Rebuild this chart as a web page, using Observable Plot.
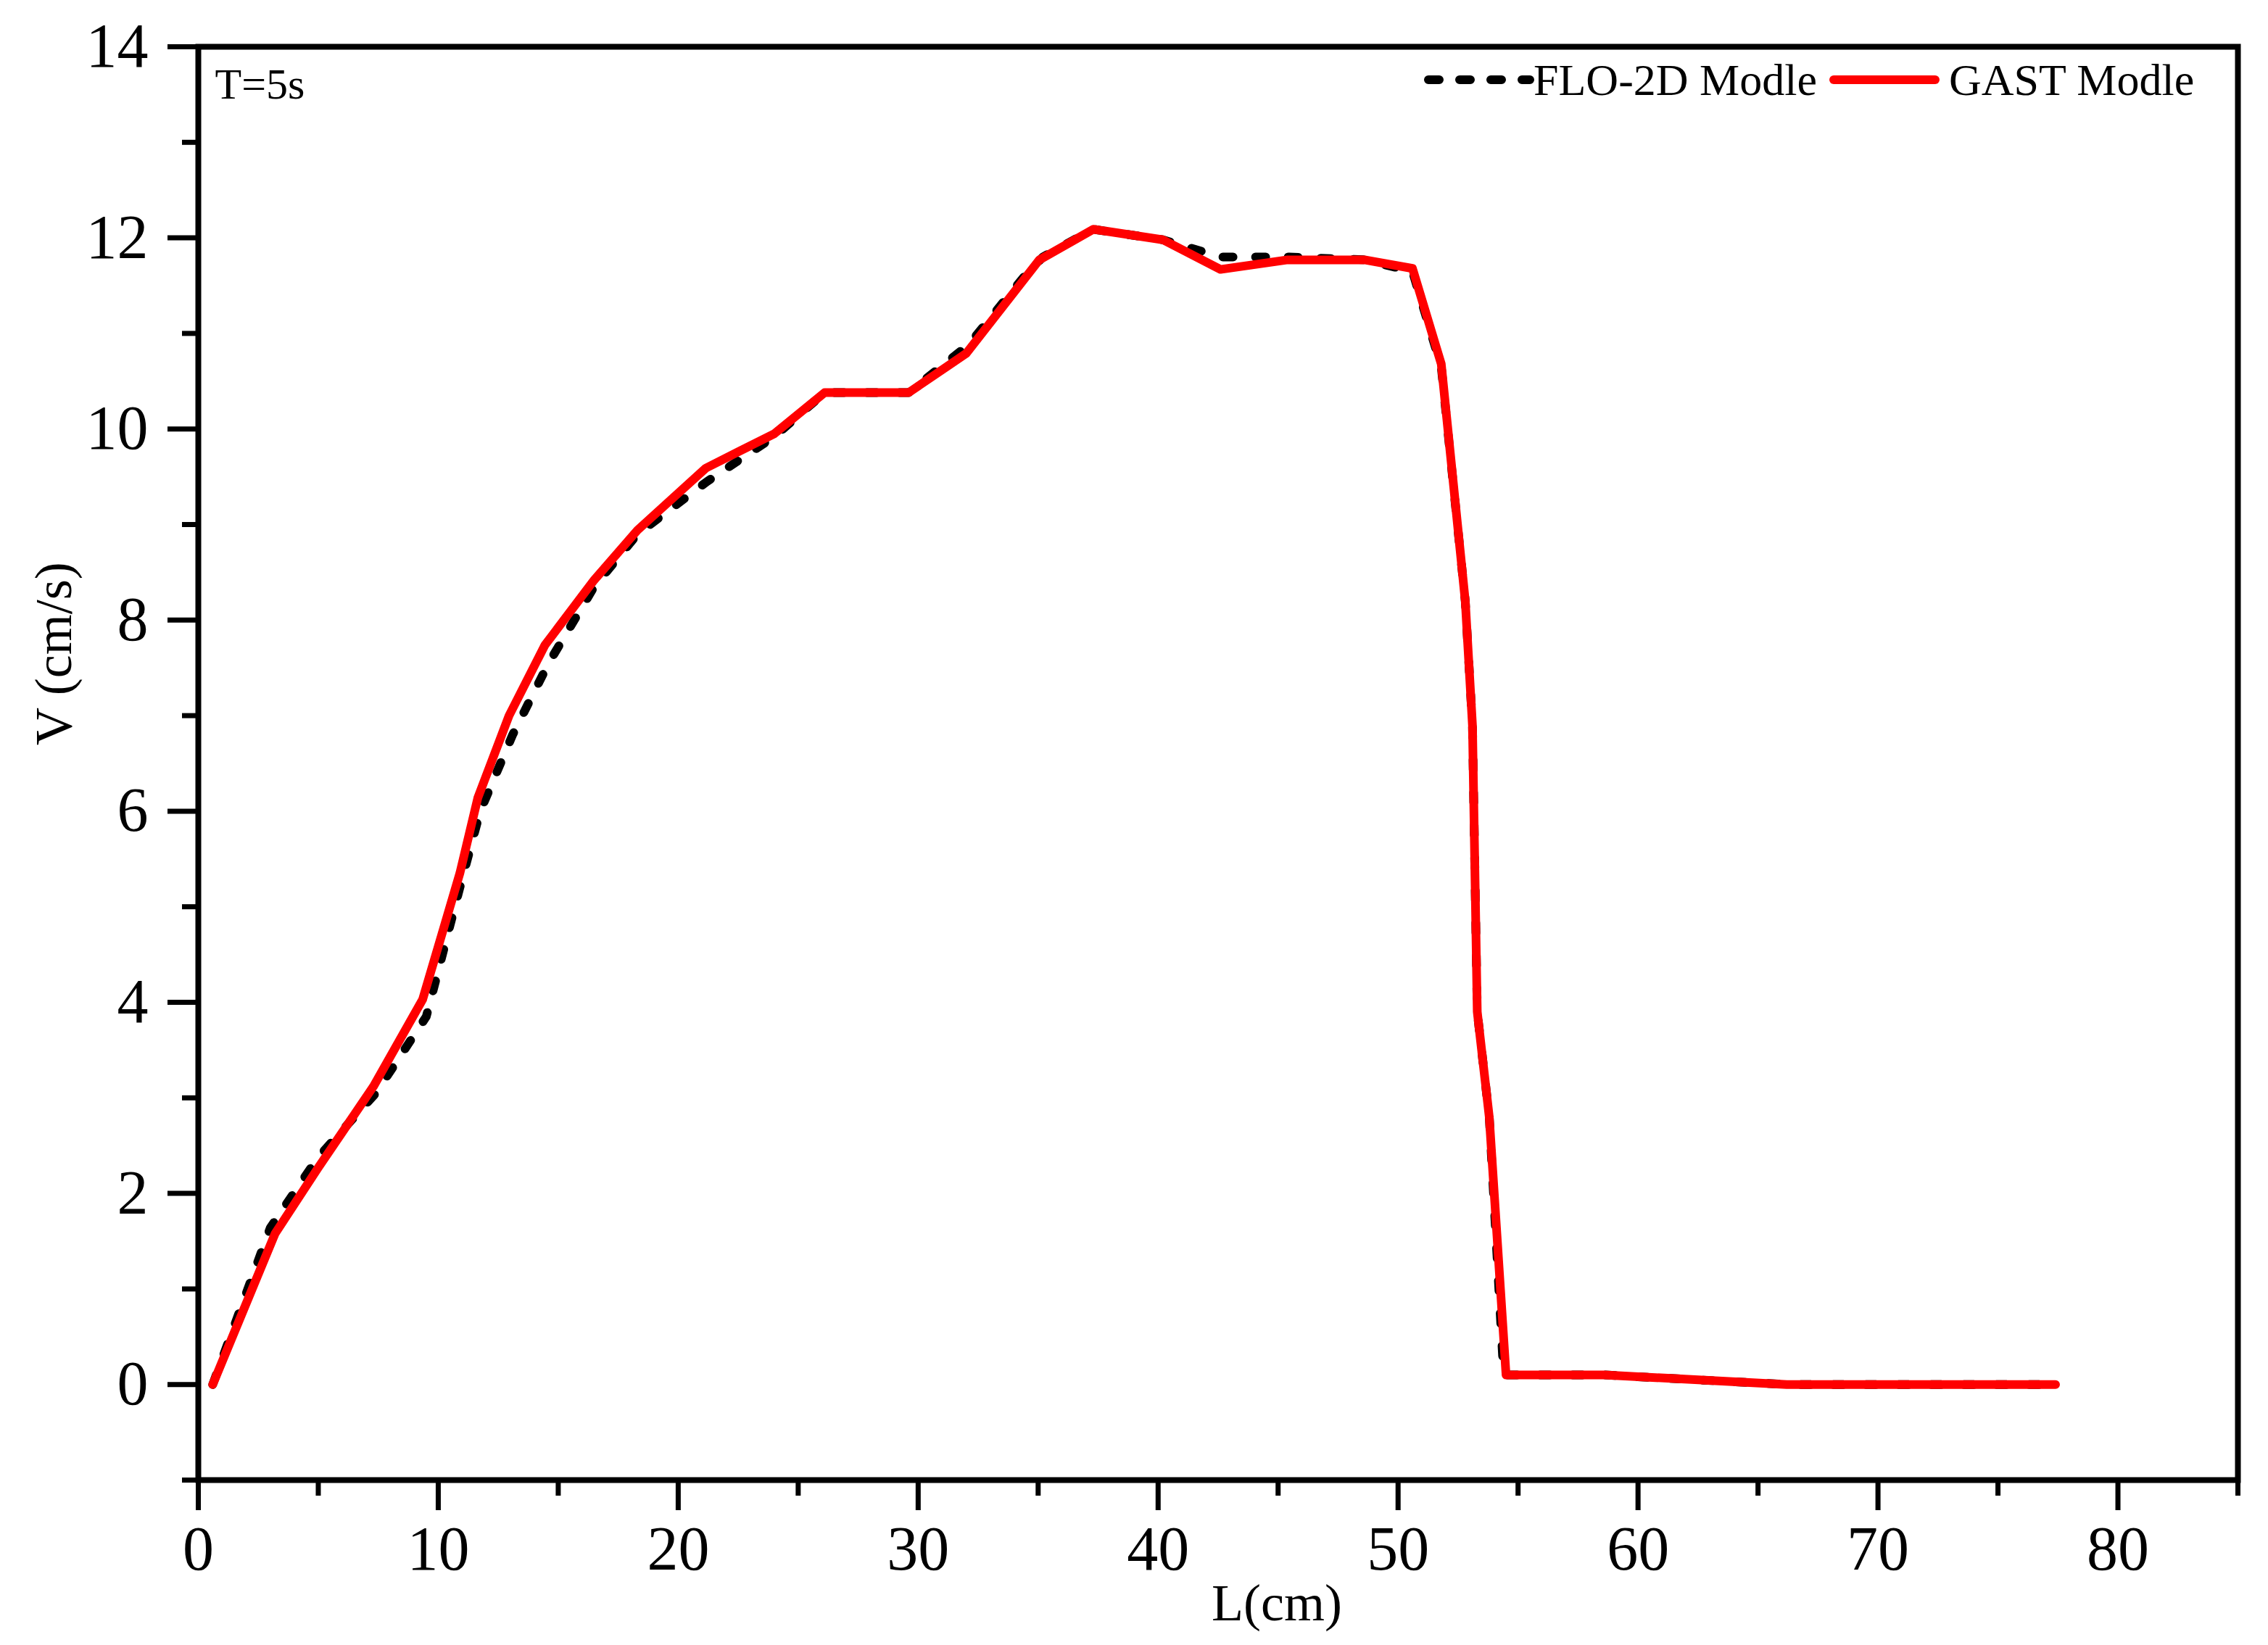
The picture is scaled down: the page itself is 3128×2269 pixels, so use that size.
<!DOCTYPE html>
<html>
<head>
<meta charset="utf-8">
<script src="https://cdn.jsdelivr.net/npm/d3@7"></script>
<script src="https://cdn.jsdelivr.net/npm/@observablehq/plot@0.6"></script>
<style>
  html, body { margin: 0; padding: 0; background: #fff; }
  #chart { width: 3128px; height: 2269px; }
</style>
</head>
<body>
<div id="chart"></div>
<script>
// GAST Modle (red solid line)
const gastL = [0.6, 3.2, 5.0, 7.3, 9.35, 10.9, 11.65, 12.95, 14.45, 16.5, 18.3, 21.15, 24.0, 26.1, 29.6, 32.0, 35.05, 37.3, 40.2, 42.6, 45.4, 48.6, 50.6, 51.8, 52.8, 53.1, 53.3, 53.8, 54.5, 58.6, 66.2, 77.4];
const gastV = [0.0, 1.58, 2.27, 3.12, 4.03, 5.35, 6.14, 7.0, 7.74, 8.42, 8.94, 9.59, 9.95, 10.38, 10.38, 10.79, 11.77, 12.09, 11.98, 11.67, 11.77, 11.77, 11.68, 10.68, 8.2, 6.9, 3.9, 2.8, 0.1, 0.1, 0.0, 0.0];

// FLO-2D Modle (black dashed line)
const floL = [0.6, 3.0, 5.0, 7.4, 9.5, 10.9, 11.75, 13.1, 14.6, 16.5, 18.3, 21.2, 24.0, 26.1, 29.6, 32.1, 34.5, 35.2, 37.3, 40.2, 42.6, 45.4, 48.6, 50.6, 51.8, 52.8, 53.1, 53.3, 53.8, 54.4, 58.6, 66.2, 77.4];
const floV = [0.0, 1.64, 2.38, 3.05, 3.85, 5.2, 6.0, 6.8, 7.55, 8.35, 8.9, 9.45, 9.92, 10.38, 10.38, 10.88, 11.62, 11.8, 12.09, 11.98, 11.8, 11.8, 11.77, 11.65, 10.65, 8.2, 6.9, 3.9, 2.8, 0.1, 0.1, 0.0, 0.0];

// axis ticks
const xMajor = [0, 10, 20, 30, 40, 50, 60, 70, 80];
const xMinor = [5, 15, 25, 35, 45, 55, 65, 75, 85];
const yMajor = [0, 2, 4, 6, 8, 10, 12, 14];
const yMinor = [-1, 1, 3, 5, 7, 9, 11, 13];

const seriesNames = ["FLO-2D Modle", "GAST Modle"];
const annotation = "T=5s";
const xTitle = "L(cm)";
const yTitle = "V (cm/s)";

const gast = gastL.map((L, i) => ({L, V: gastV[i]}));
const flo = floL.map((L, i) => ({L, V: floV[i]}));

const W = 3128, H = 2269;
const mL = 273, mR = 42, mT = 64, mB = 228;

const svg = Plot.plot({
  width: W,
  height: H,
  marginLeft: mL,
  marginRight: mR,
  marginTop: mT,
  marginBottom: mB,
  style: {fontFamily: "'Liberation Serif', 'Times New Roman', serif", fontSize: "72px", background: "#fff", color: "#000"},
  x: {domain: [0, 85]},
  y: {domain: [-1, 14]},
  marks: [
    Plot.line(flo, {x: "L", y: "V", stroke: "#000", strokeWidth: 12, strokeDasharray: "14,31", strokeLinecap: "round", strokeLinejoin: "round"}),
    Plot.line(gast, {x: "L", y: "V", stroke: "#ff0000", strokeWidth: 12, strokeLinecap: "round", strokeLinejoin: "round"}),
    Plot.frame({stroke: "#000", strokeWidth: 8}),
    Plot.axisX({ticks: xMajor, tickSize: 42, tickPadding: 20, strokeWidth: 7, fontSize: 86, label: null, tickFormat: d => String(d)}),
    Plot.axisX({ticks: xMinor, tickSize: 22, strokeWidth: 7, label: null, tickFormat: () => ""}),
    Plot.axisY({ticks: yMajor, tickSize: 42, tickPadding: 27, strokeWidth: 7, fontSize: 86, label: null, tickFormat: d => String(d)}),
    Plot.axisY({ticks: yMinor, tickSize: 22, strokeWidth: 7, label: null, tickFormat: () => ""}),
    Plot.text([xTitle], {frameAnchor: "bottom", dx: 81, dy: 170, fontSize: 72, lineAnchor: "middle"}),
    Plot.text([yTitle], {frameAnchor: "left", rotate: -90, dx: -199, dy: -25, fontSize: 72, lineAnchor: "middle"}),
    Plot.text([annotation], {frameAnchor: "top-left", dx: 23, dy: 52, fontSize: 60, textAnchor: "start", lineAnchor: "middle"})
  ]
});

// heavy strokes for axis ticks and frame
const s = d3.select(svg);
s.selectAll("g[aria-label$='tick']").attr("stroke-width", 7).attr("stroke", "#000");
s.selectAll("g[aria-label$='tick'] path").attr("stroke-width", 7);
s.selectAll("[aria-label='frame']").attr("stroke-width", 8).attr("stroke", "#000");

// legend inside the plot (top right)
const g = s.append("g").attr("class", "legend").attr("text-anchor", "start")
  .attr("font-family", "'Liberation Serif', 'Times New Roman', serif");
g.append("line").attr("x1", 1970).attr("x2", 2110).attr("y1", 110).attr("y2", 110)
  .attr("stroke", "#000").attr("stroke-width", 12).attr("stroke-dasharray", "15,28").attr("stroke-linecap", "round");
g.append("text").attr("x", 2115).attr("y", 131).attr("font-size", 62).attr("fill", "#000").text(seriesNames[0]);
g.append("line").attr("x1", 2529).attr("x2", 2669).attr("y1", 110).attr("y2", 110)
  .attr("stroke", "#ff0000").attr("stroke-width", 12).attr("stroke-linecap", "round");
g.append("text").attr("x", 2688).attr("y", 131).attr("font-size", 62).attr("fill", "#000").text(seriesNames[1]);

document.getElementById("chart").appendChild(svg);
</script>
</body>
</html>
